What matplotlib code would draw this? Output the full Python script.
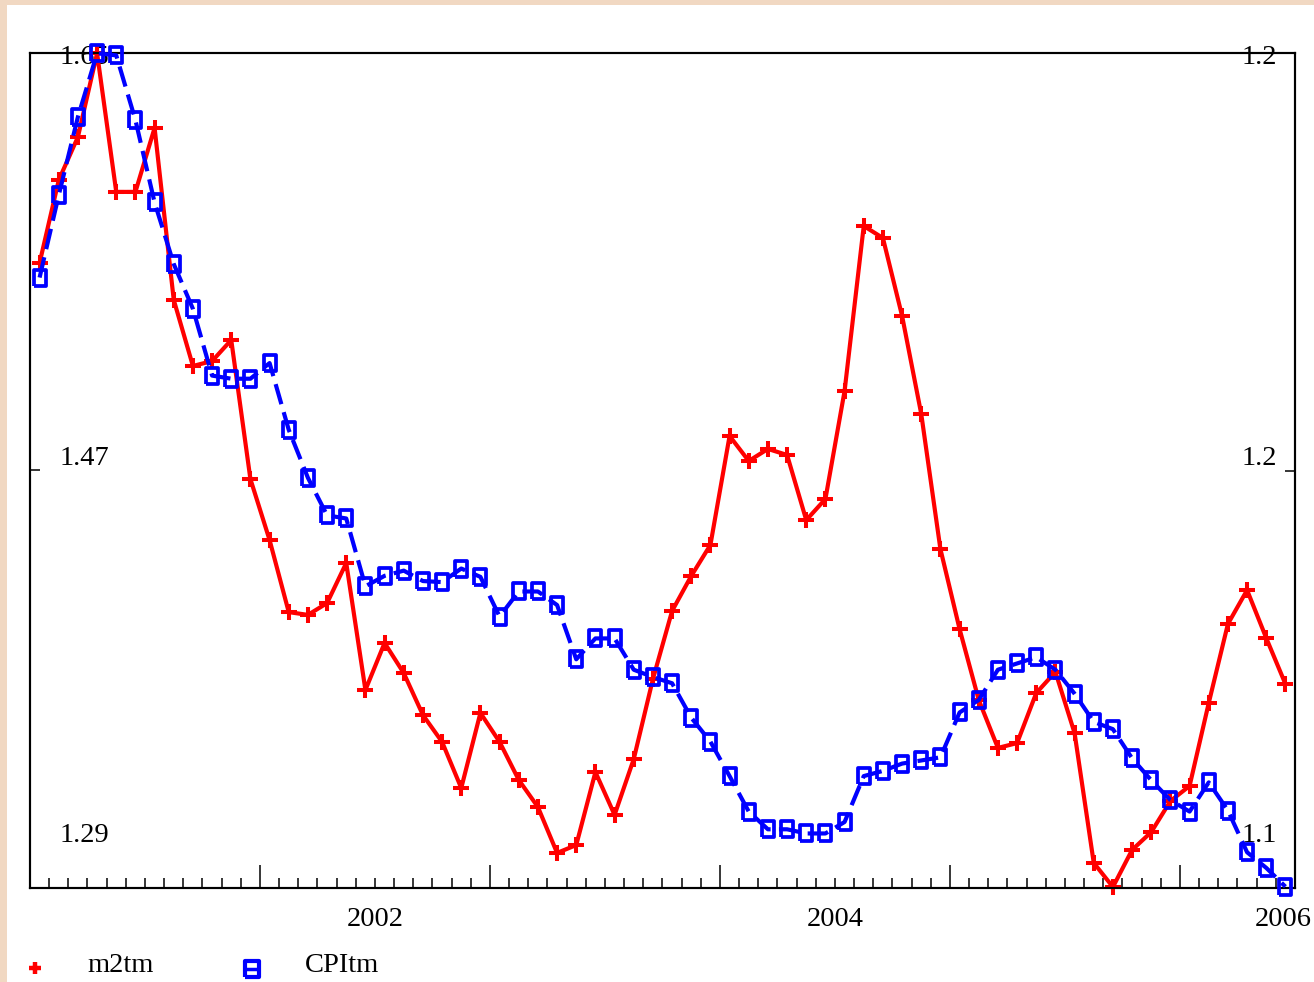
import numpy as np
import matplotlib
matplotlib.use("Agg")
import matplotlib.pyplot as plt
from matplotlib.lines import Line2D
from matplotlib.patches import Rectangle

# ---------------- data ----------------
start_year = 2001
m2tm = [1.5595, 1.5953, 1.6139, 1.6500, 1.5902, 1.5902, 1.6178, 1.5436, 1.5151, 1.5172,
        1.5263, 1.4663, 1.4400, 1.4089, 1.4077, 1.4128, 1.4301, 1.3753, 1.3956, 1.3826,
        1.3645, 1.3529, 1.3330, 1.3654, 1.3529, 1.3365, 1.3248, 1.3050, 1.3084, 1.3399,
        1.3214, 1.3455, 1.3800, 1.4094, 1.4245, 1.4379, 1.4849, 1.4741, 1.4793, 1.4767,
        1.4486, 1.4577, 1.5043, 1.5755, 1.5703, 1.5367, 1.4944, 1.4361, 1.4016, 1.3710,
        1.3503, 1.3524, 1.3740, 1.3831, 1.3567, 1.3007, 1.2903, 1.3063, 1.3140, 1.3274,
        1.3339, 1.3697, 1.4038, 1.4184, 1.3977, 1.3779]
CPItm = [1.1785, 1.1864, 1.1939, 1.2000, 1.1998, 1.1936, 1.1857, 1.1798, 1.1755, 1.1691,
         1.1688, 1.1688, 1.1703, 1.1639, 1.1593, 1.1557, 1.1554, 1.1489, 1.1499, 1.1504,
         1.1494, 1.1493, 1.1506, 1.1498, 1.1460, 1.1484, 1.1484, 1.1471, 1.1419, 1.1439,
         1.1439, 1.1409, 1.1402, 1.1396, 1.1363, 1.1340, 1.1307, 1.1273, 1.1256, 1.1256,
         1.1252, 1.1252, 1.1263, 1.1307, 1.1312, 1.1319, 1.1322, 1.1325, 1.1368, 1.1380,
         1.1409, 1.1415, 1.1421, 1.1409, 1.1386, 1.1359, 1.1352, 1.1324, 1.1303, 1.1284,
         1.1273, 1.1301, 1.1274, 1.1234, 1.1219, 1.1201]
series_names = ["m2tm", "CPItm"]
left_ticks = [1.65, 1.47, 1.29]
left_tick_labels = ["1.65", "1.47", "1.29"]
right_ticks = [1.20, 1.16, 1.12]
right_tick_labels = ["%.1f" % v for v in right_ticks]
year_labels = [2002, 2004, 2006]

dates = start_year + (np.arange(len(m2tm)) + 0.5) / 12.0

# ---------------- figure ----------------
W, H = 1314, 982
fig = plt.figure(figsize=(W / 100, H / 100), dpi=100)
fig.patch.set_facecolor("#F1D8C2")
fig.add_artist(Rectangle((7 / W, 0), 1 - 7 / W, 1 - 5 / H, transform=fig.transFigure,
                         facecolor="white", edgecolor="none", zorder=0))

serif = ["Liberation Serif", "DejaVu Serif"]
fs = 20.5

ax_l, ax_r, ax_t, ax_b = 30, 1295, 53.3, 887.7
ax1 = fig.add_axes([ax_l / W, 1 - ax_b / H, (ax_r - ax_l) / W, (ax_b - ax_t) / H])
ax1.set_facecolor("none")
ax2 = ax1.twinx()

ax1.set_xlim(2001.0, 2006.5)
ax1.set_ylim(1.29, 1.65)
ax2.set_ylim(1.12, 1.20)

red = "#FF0000"
blue = "#0000FF"
rect_marker = [(-0.8, -1), (0.8, -1), (0.8, 1), (-0.8, 1), (-0.8, -1)]

ax1.plot(dates, m2tm, color=red, lw=3.0, marker="+", markersize=11,
         markeredgewidth=2.9, zorder=3, clip_on=False)
ax2.plot(dates, CPItm, color=blue, lw=3.0, dashes=(5, 2.0), marker=rect_marker,
         markersize=11.5, fillstyle="none", markeredgewidth=2.7, zorder=4, clip_on=False)

for a in (ax1, ax2):
    for s in a.spines.values():
        s.set_linewidth(1.5)
        s.set_color("black")

# x ticks
ax1.set_xticks(np.arange(2002, 2007))
ax1.set_xticks(np.arange(2001, 2006.5 + 1e-9, 1 / 12), minor=True)
ax1.tick_params(axis="x", which="major", direction="in", length=16.5, width=1.1,
                bottom=True, top=False, labelbottom=False)
ax1.tick_params(axis="x", which="minor", direction="in", length=7.5, width=1.1,
                bottom=True, top=False)
# y ticks
ax1.set_yticks([left_ticks[1]])
ax1.tick_params(axis="y", direction="in", length=7.5, width=1.1, labelleft=False)
ax2.set_yticks([right_ticks[1]])
ax2.tick_params(axis="y", direction="in", length=7.5, width=1.1, labelright=False)

# y tick labels (drawn inside the frame, as in the reference)
label_y_axes = [0.995, 0.514, 0.0625]
for lab, yy in zip(left_tick_labels, label_y_axes):
    ax1.text(30 / (ax_r - ax_l), yy, lab, transform=ax1.transAxes, ha="left",
             va="center", fontsize=fs, family=serif, zorder=2)
for lab, yy in zip(right_tick_labels, label_y_axes):
    ax1.text(1 - 18 / (ax_r - ax_l), yy, lab, transform=ax1.transAxes, ha="right",
             va="center", fontsize=fs, family=serif, zorder=2)

# year labels
for yr in year_labels:
    xpos = yr + 0.5
    if xpos >= ax1.get_xlim()[1]:
        fig.text(1312 / W, 1 - 920 / H, str(yr), ha="right", va="center",
                 fontsize=fs, family=serif)
    else:
        ax1.text(xpos, -0.0387, str(yr), transform=ax1.get_xaxis_transform(),
                 ha="center", va="center", fontsize=fs, family=serif)

# legend
fig.add_artist(Line2D([35 / W], [1 - 968 / H], transform=fig.transFigure, color=red,
                      marker="+", markersize=9, markeredgewidth=3.2, linestyle="none"))
fig.text(87 / W, 1 - 965 / H, series_names[0], ha="left", va="center",
         fontsize=fs, family=serif)
fig.add_artist(Line2D([252 / W], [1 - 969 / H], transform=fig.transFigure, color=blue,
                      marker=rect_marker, markersize=12, fillstyle="none",
                      markeredgewidth=3, linestyle="none"))
fig.add_artist(Line2D([247 / W, 257 / W], [1 - 969 / H, 1 - 969 / H],
                      transform=fig.transFigure, color=blue, lw=2.5))
fig.text(305 / W, 1 - 965 / H, series_names[1], ha="left", va="center",
         fontsize=fs, family=serif)

fig.savefig("out.png", dpi=100, facecolor=fig.get_facecolor())
